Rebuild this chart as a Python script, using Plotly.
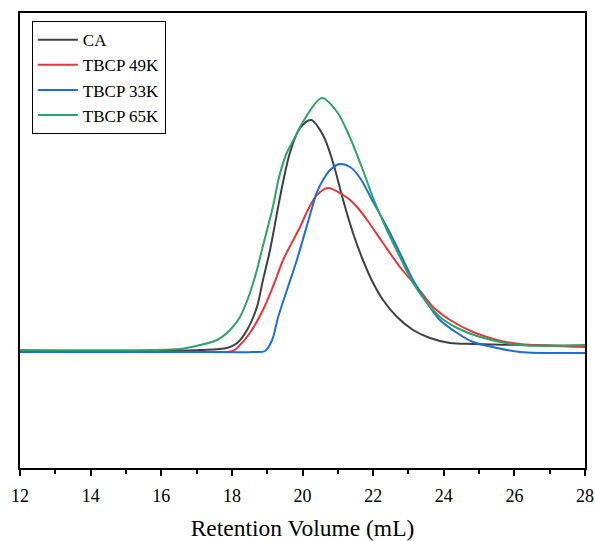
import plotly.graph_objects as go

# Retention volume (mL) and detector response (arbitrary units)
ca_x = [12.00, 15.68, 17.10, 17.86, 18.15, 18.43, 18.71, 18.88, 19.08, 19.31, 19.45, 19.65, 19.93,
        20.24, 20.58, 20.86, 21.15, 21.43, 21.71, 22.00, 22.28, 22.68, 23.13, 23.61, 24.18, 24.83,
        26.16, 28.00]
ca_y = [117, 117, 118, 120, 125, 138, 161, 188, 218, 261, 286, 316, 340,
        348, 333, 306, 268, 235, 208, 185, 168, 151, 138, 130, 125, 124,
        123, 122]

r49_x = [12.00, 17.10, 17.80, 18.03, 18.23, 18.51, 18.88, 19.16, 19.45, 19.59, 19.93, 20.18, 20.41,
         20.72, 21.15, 21.35, 21.57, 21.83, 22.28, 22.76, 23.24, 23.70, 24.18, 24.83, 25.51, 26.16,
         28.00]
r49_y = [116, 116, 116, 117, 123, 135, 158, 181, 208, 218, 241, 260, 273,
         280, 273, 268, 260, 248, 225, 201, 181, 161, 148, 136, 128, 124,
         121]

b33_x = [12.00, 17.10, 18.60, 18.94, 19.14, 19.31, 19.56, 19.84, 20.27, 20.41, 20.58, 20.78, 21.06,
         21.35, 21.63, 21.97, 22.39, 22.76, 23.13, 23.53, 23.89, 24.38, 24.83, 25.51, 26.16, 28.00]
b33_y = [116, 116, 116, 117, 128, 151, 178, 208, 260, 276, 288, 298, 304,
         301, 290, 268, 241, 215, 188, 165, 148, 135, 126, 120, 116, 115]

g65_x = [12.00, 15.68, 16.53, 17.10, 17.58, 17.95, 18.23, 18.51, 18.71, 18.85, 19.16, 19.33, 19.53,
         19.79, 20.01, 20.55, 20.98, 21.35, 21.71, 22.00, 22.39, 22.76, 23.13, 23.53, 23.89, 24.38,
         25.03, 26.16, 28.00]
g65_y = [118, 118, 119, 123, 128, 138, 151, 175, 198, 218, 261, 290, 313,
         331, 346, 370, 356, 330, 298, 270, 238, 211, 185, 165, 151, 140,
         131, 123, 123]

series = [
    ("CA", ca_x, ca_y, "#404040"),
    ("TBCP 49K", r49_x, r49_y, "#e8373c"),
    ("TBCP 33K", b33_x, b33_y, "#1b6edb"),
    ("TBCP 65K", g65_x, g65_y, "#2ca564"),
]

fig = go.Figure()
for name, xs, ys, col in series:
    fig.add_trace(go.Scatter(x=xs, y=ys, name=name, mode="lines",
                             line=dict(color=col, width=2, shape="spline", smoothing=0.9)))

font = "Liberation Serif"
fig.update_layout(
    width=595, height=541,
    margin=dict(l=20, r=10, t=13, b=73),
    paper_bgcolor="white", plot_bgcolor="white",
    font=dict(family=font, color="black", size=18),
    showlegend=True,
    legend=dict(x=0.021, y=0.982, xanchor="left", yanchor="top",
                bordercolor="black", borderwidth=1, bgcolor="white",
                font=dict(family=font, size=17, color="black"),
                tracegroupgap=0, itemwidth=40),
    xaxis=dict(range=[12, 28], dtick=2, tick0=12, showgrid=False, zeroline=False,
               automargin=False,
               showline=True, linecolor="black", linewidth=1.5, mirror=True,
               ticks="outside", ticklen=6, tickwidth=1.5, tickcolor="black",
               ticklabelstandoff=5,
               minor=dict(dtick=1, ticks="outside", ticklen=4, tickwidth=1.5, tickcolor="black"),
               tickfont=dict(family=font, size=18, color="black"),
               title=dict(text="Retention Volume (mL)", standoff=18,
                          font=dict(family=font, size=23.5, color="black"))),
    yaxis=dict(range=[0, 455], showgrid=False, zeroline=False, showticklabels=False,
               automargin=False,
               showline=True, linecolor="black", linewidth=1.5, mirror=True, ticks=""),
)

fig.write_html("out.html")
